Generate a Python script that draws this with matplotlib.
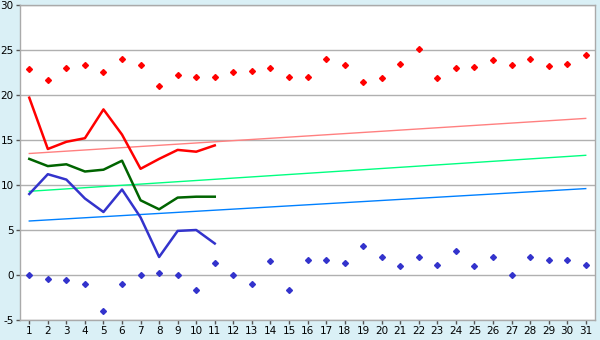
import matplotlib
matplotlib.use("Agg")
import matplotlib.pyplot as plt
import numpy as np

plt.rcParams['axes.unicode_minus'] = False

days = list(range(1, 32))
max_pts = [22.9, 21.7, 23.0, 23.3, 22.6, 24.0, 23.3, 21.0, 22.2, 22.0,
           22.0, 22.6, 22.7, 23.0, 22.0, 22.0, 24.0, 23.3, 21.4, 21.9,
           23.5, 25.1, 21.9, 23.0, 23.1, 23.9, 23.3, 24.0, 23.2, 23.5, 24.4]
min_pts = [0.0, -0.4, -0.6, -1.0, -4.0, -1.0, 0.0, 0.2, 0.0, -1.7,
           1.3, 0.0, -1.0, 1.6, -1.7, 1.7, 1.7, 1.3, 3.2, 2.0,
           1.0, 2.0, 1.1, 2.7, 1.0, 2.0, 0.0, 2.0, 1.7, 1.7, 1.1]
line_days = list(range(1, 12))
max_line = [19.7, 14.0, 14.8, 15.2, 18.4, 15.6, 11.8, 12.9, 13.9, 13.7, 14.4]
mean_line = [12.9, 12.1, 12.3, 11.5, 11.7, 12.7, 8.3, 7.3, 8.6, 8.7, 8.7]
min_line = [9.0, 11.2, 10.6, 8.5, 7.0, 9.5, 6.4, 2.0, 4.9, 5.0, 3.5]
trend_days = [1, 31]
trend_max = [13.5, 17.4]
trend_mean = [9.3, 13.3]
trend_min = [6.0, 9.6]

bg = '#daf0f6'
fig = plt.figure(figsize=(6, 3.4), dpi=100, facecolor=bg)
ax = fig.add_axes([20/600, 1-320/340, 575/600, 315/340])
ax.set_facecolor('white')

ax.plot(trend_days, trend_max, color='#ff8080', lw=1)
ax.plot(trend_days, trend_mean, color='#00ff80', lw=1)
ax.plot(trend_days, trend_min, color='#0080ff', lw=1)

ax.plot(line_days, max_line, color='#ff0000', lw=1.8)
ax.plot(line_days, mean_line, color='#006400', lw=1.8)
ax.plot(line_days, min_line, color='#3333cc', lw=1.8)

ax.plot(days, max_pts, ls='none', marker='D', ms=3.0, color='#ff0000')
ax.plot(days, min_pts, ls='none', marker='D', ms=3.0, color='#3333cc')

ax.set_xlim(0.5, 31.5)
ax.set_ylim(-5, 30)
ax.set_xticks(days)
ax.set_yticks(range(-5, 31, 5))
ax.grid(axis='y', color='#b0b0b0', lw=1)
ax.set_axisbelow(True)
for s in ax.spines.values():
    s.set_color('#aaaaaa')
    s.set_linewidth(1)
ax.tick_params(axis='both', colors='#555555', labelcolor='black', labelsize=7.5, length=3, width=1, pad=1.5)
fig.savefig('out.png', dpi=100, facecolor=bg)
